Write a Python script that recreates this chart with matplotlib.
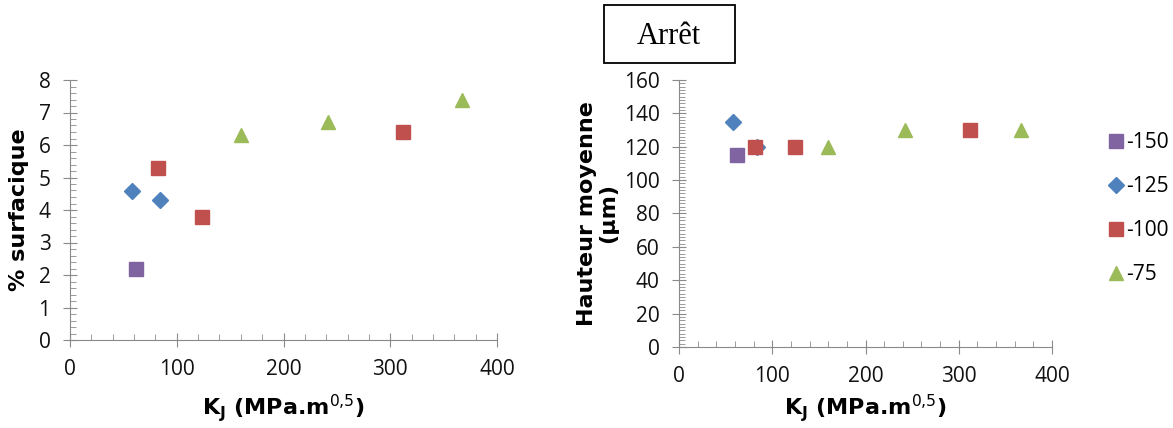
import matplotlib.pyplot as plt
from matplotlib.patches import Rectangle
from matplotlib.ticker import MultipleLocator

# Donnees : temperature (°C) -> (KJ, valeur)
series = ["-150", "-125", "-100", "-75"]
kj_150 = [62]
kj_125 = [58, 84]
kj_100 = [82, 124, 312]
kj_75 = [160, 242, 367]

surf_150 = [2.2]
surf_125 = [4.6, 4.3]
surf_100 = [5.3, 3.8, 6.4]
surf_75 = [6.3, 6.7, 7.4]

haut_150 = [115]
haut_125 = [135, 120]
haut_100 = [120, 120, 130]
haut_75 = [120, 130, 130]

couleurs = ["#8064A2", "#4F81BD", "#C0504D", "#9BBB59"]
marqueurs = ["s", "D", "s", "^"]
tailles = [9.7, 8.5, 9.7, 10.5]

kj = [kj_150, kj_125, kj_100, kj_75]
surf = [surf_150, surf_125, surf_100, surf_75]
haut = [haut_150, haut_125, haut_100, haut_75]

plt.rcParams['font.family'] = ['DejaVu Sans']
plt.rcParams['mathtext.fontset'] = 'dejavusans'

W, H = 1173, 428
fig = plt.figure(figsize=(W / 100, H / 100), dpi=100)
# positions en pixels (gauche, droite, haut, bas)
ax1 = fig.add_axes([70 / W, 1 - 340 / H, 427 / W, 260 / H])
ax2 = fig.add_axes([679 / W, 1 - 347 / H, 373 / W, 267 / H])

gris = "#8a8a8a"
xlab = r'K$_\mathbf{J}$ (MPa.m$^{0{,}5}$)'


def style_axe(ax, ymax, ymaj, ymin):
    for s in ["top", "right"]:
        ax.spines[s].set_visible(False)
    for s in ["left", "bottom"]:
        ax.spines[s].set_color(gris)
    ax.set_xlim(0, 400)
    ax.set_ylim(0, ymax)
    ax.xaxis.set_major_locator(MultipleLocator(100))
    ax.xaxis.set_minor_locator(MultipleLocator(20))
    ax.yaxis.set_major_locator(MultipleLocator(ymaj))
    ax.yaxis.set_minor_locator(MultipleLocator(ymin))
    ax.tick_params(which="major", direction="inout", length=10, color=gris,
                   labelsize=15, labelcolor="#111111")
    ax.tick_params(which="minor", direction="in", length=4, color=gris)
    ax.tick_params(axis="x", which="major", pad=9)
    ax.tick_params(axis="y", which="major", pad=9)
    for t in ax.get_xticklabels() + ax.get_yticklabels():
        t.set_family("Open Sans")
    ax.patch.set_alpha(0)


for i in range(4):
    ax1.plot(kj[i], surf[i], linestyle="none", marker=marqueurs[i],
             color=couleurs[i], markersize=tailles[i], label=series[i],
             clip_on=False)
    ax2.plot(kj[i], haut[i], linestyle="none", marker=marqueurs[i],
             color=couleurs[i], markersize=tailles[i], label=series[i],
             clip_on=False)

style_axe(ax1, 8, 1, 0.2)
style_axe(ax2, 160, 20, 2)

ax1.set_ylabel("% surfacique", fontsize=16, fontweight="bold", labelpad=7)
ax1.set_xlabel(xlab, fontsize=16, fontweight="bold", labelpad=8)
ax2.set_ylabel("Hauteur moyenne\n(µm)", fontsize=16, fontweight="bold",
               labelpad=4, linespacing=1.1)
ax2.set_xlabel(xlab, fontsize=16, fontweight="bold", labelpad=3)

h, l = ax2.get_legend_handles_labels()
leg = fig.legend(h, l, loc="upper left", bbox_to_anchor=(1099 / W, 1 - 124 / H),
                 frameon=False, prop={"family": "Open Sans", "size": 15},
                 labelspacing=1.1, handlelength=0.8, handletextpad=0.1,
                 markerscale=1.0, borderaxespad=0)

# encadre "Arret"
fig.patches.append(Rectangle((604 / W, 1 - 63 / H), 131 / W, 58 / H,
                             transform=fig.transFigure, fill=False,
                             edgecolor="black", linewidth=1.3))
fig.text(669 / W, 1 - 36 / H, "Arrêt", family="Liberation Serif",
         fontsize=22, ha="center", va="center")

fig.savefig("out.png", dpi=100)
